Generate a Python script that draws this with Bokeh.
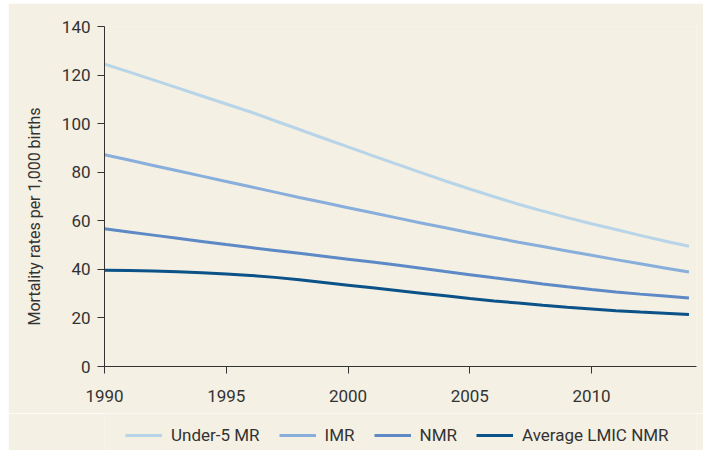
from bokeh.plotting import figure
from bokeh.models import Range1d, FixedTicker, Legend, LegendItem, Title
from bokeh.layouts import column
from bokeh.embed import file_html
from bokeh.resources import INLINE

years = list(range(1990, 2015))
under5_mr = [124.5, 121.3, 118.0, 114.7, 111.4, 108.1, 104.8, 101.2, 97.6, 94.0,
             90.4, 86.8, 83.3, 79.8, 76.4, 73.1, 69.9, 66.8, 64.0, 61.3,
             58.8, 56.4, 54.0, 51.7, 49.5]
imr = [87.2, 85.0, 82.8, 80.6, 78.4, 76.2, 74.0, 71.8, 69.6, 67.5,
       65.4, 63.3, 61.2, 59.1, 57.1, 55.1, 53.1, 51.2, 49.4, 47.6,
       45.8, 44.0, 42.3, 40.6, 38.9]
nmr = [56.7, 55.4, 54.1, 52.8, 51.5, 50.2, 49.0, 47.8, 46.6, 45.4,
       44.2, 43.0, 41.8, 40.5, 39.1, 37.8, 36.5, 35.3, 34.0, 32.8,
       31.7, 30.7, 29.8, 29.0, 28.2]
lmic_nmr = [39.6, 39.5, 39.3, 39.0, 38.6, 38.1, 37.5, 36.7, 35.7, 34.6,
            33.5, 32.4, 31.3, 30.2, 29.1, 28.0, 27.0, 26.1, 25.2, 24.4,
            23.7, 23.0, 22.4, 21.9, 21.4]
series_labels = ["Under-5 MR", "IMR", "NMR", "Average LMIC NMR"]
x_ticks = [1990, 1995, 2000, 2005, 2010]
y_ticks = [0, 20, 40, 60, 80, 100, 120, 140]
y_title = "Mortality rates per 1,000 births"

colors = ["#b8d4e8", "#88aedc", "#5d89c6", "#0a5287"]
beige = "#f4f0e3"
ink = "#333333"
font = "Roboto"

p = figure(width=695, height=410, output_backend="svg", toolbar_location=None,
           x_range=Range1d(1990, 2014.31), y_range=Range1d(0, 140),
           min_border_left=96, min_border_right=7, min_border_top=23,
           min_border_bottom=47)
p.margin = (3, 0, 0, 8)
p.background_fill_color = beige
p.border_fill_color = beige
p.outline_line_color = None
p.xgrid.grid_line_color = None
p.ygrid.grid_line_color = None

for ax in (p.xaxis[0], p.yaxis[0]):
    ax.axis_line_color = ink
    ax.axis_line_width = 1
    ax.major_tick_line_color = ink
    ax.major_tick_out = 7
    ax.major_tick_in = 0
    ax.minor_tick_line_color = None
    ax.major_label_text_font = font
    ax.major_label_text_font_size = "17px"
    ax.major_label_text_color = ink

p.xaxis[0].ticker = FixedTicker(ticks=x_ticks)
p.yaxis[0].ticker = FixedTicker(ticks=y_ticks)
p.xaxis[0].major_label_standoff = 16
p.yaxis[0].major_label_standoff = 7

ytitle = Title(text=y_title, align="left", offset=41, standoff=29,
               text_font=font, text_font_size="16px", text_font_style="normal",
               text_color=ink)
p.add_layout(ytitle, "left")

series = [under5_mr, imr, nmr, lmic_nmr]
for vals, col in zip(series, colors):
    p.line(years, vals, line_color=col, line_width=3)

# legend strip below the chart
leg = figure(width=695, height=37, output_backend="svg", toolbar_location=None,
             x_range=Range1d(0, 1), y_range=Range1d(0, 1),
             min_border=0, x_axis_type=None, y_axis_type=None)
leg.margin = (0, 0, 10, 8)
leg.background_fill_color = beige
leg.border_fill_color = beige
leg.outline_line_color = None
leg.xgrid.grid_line_color = None
leg.ygrid.grid_line_color = None
items = []
for col, lab in zip(colors, series_labels):
    r = leg.line([-5, -4], [-5, -4], line_color=col, line_width=3)
    items.append(LegendItem(label=lab, renderers=[r]))
legend = Legend(items=items, orientation="horizontal", location=(21, 5),
                glyph_width=37, glyph_height=20, label_height=20,
                label_standoff=9, spacing=19, padding=0, margin=0,
                background_fill_alpha=0, border_line_color=None,
                label_text_font=font, label_text_font_size="17px",
                label_text_color=ink)
leg.add_layout(legend)

layout = column(p, leg, spacing=0)
open("out.html", "w").write(file_html(layout, INLINE))
